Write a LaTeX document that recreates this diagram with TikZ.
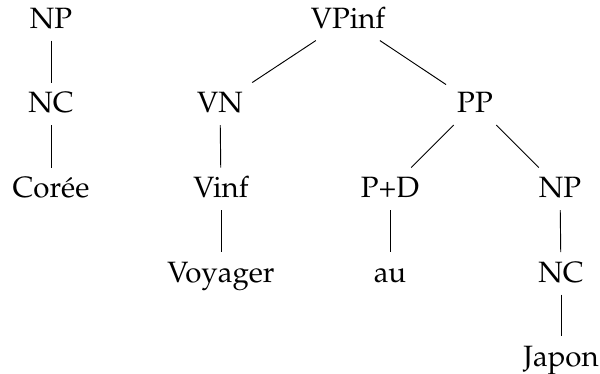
\documentclass[tikz,border=0pt]{standalone}
\usepackage[T1]{fontenc}
\usepackage{mathpazo}
\tikzset{
  lbl/.style={anchor=base, inner xsep=4pt, inner ysep=0pt, text height=11pt, text depth=4.5pt, font=\fontsize{11}{13}\selectfont},
  edge/.style={line width=0.35pt, black}
}
\begin{document}
\begin{tikzpicture}[x=0.374pt, y=-0.374pt]
\useasboundingbox (0,0) rectangle (600,373);
% left tree
\node[lbl] (np1) at (51,28) {NP};
\node[lbl] (nc1) at (51,112.5) {NC};
\node[lbl] (coree) at (51,197.5) {Cor\'ee};
% right tree
\node[lbl] (vpinf) at (348,28) {VPinf};
\node[lbl] (vn) at (220,112.5) {VN};
\node[lbl] (pp) at (475,112.5) {PP};
\node[lbl] (vinf) at (221,197.5) {Vinf};
\node[lbl] (pd) at (390,197.5) {P+D};
\node[lbl] (np2) at (560,197.5) {NP};
\node[lbl] (voyager) at (221,282) {Voyager};
\node[lbl] (au) at (390,282) {au};
\node[lbl] (nc2) at (561,282) {NC};
\node[lbl] (japon) at (561,366) {Japon};
% edges
\draw[edge] (np1) -- (nc1);
\draw[edge] (nc1) -- (coree);
\draw[edge] (vpinf) -- (vn);
\draw[edge] (vpinf) -- (pp);
\draw[edge] (vn) -- (vinf);
\draw[edge] (vinf) -- (voyager);
\draw[edge] (pp) -- (pd);
\draw[edge] (pp) -- (np2);
\draw[edge] (pd) -- (au);
\draw[edge] (np2) -- (nc2);
\draw[edge] (nc2) -- (japon);
\end{tikzpicture}
\end{document}
